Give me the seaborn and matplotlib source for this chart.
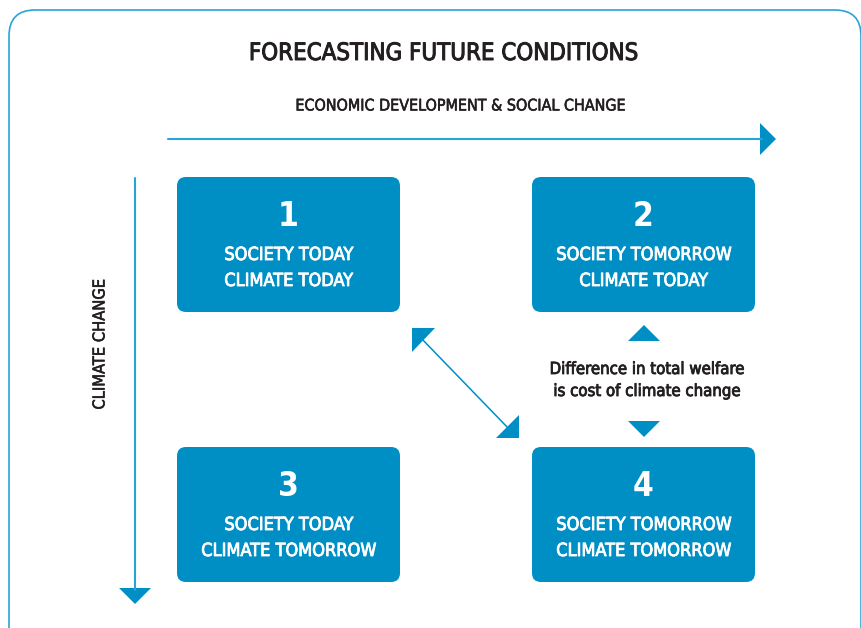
import matplotlib
matplotlib.use("Agg")
import matplotlib.pyplot as plt
import matplotlib.patheffects as pe
import seaborn as sns
from matplotlib.patches import FancyBboxPatch, Polygon

sns.set_theme(style="white")
plt.rcParams['font.family'] = ['DejaVu Sans']

# diagram content
title = "FORECASTING FUTURE CONDITIONS"
x_axis_label = "ECONOMIC DEVELOPMENT & SOCIAL CHANGE"
y_axis_label = "CLIMATE CHANGE"
box_numbers = ["1", "2", "3", "4"]
society_labels = ["SOCIETY TODAY", "SOCIETY TOMORROW", "SOCIETY TODAY", "SOCIETY TOMORROW"]
climate_labels = ["CLIMATE TODAY", "CLIMATE TODAY", "CLIMATE TOMORROW", "CLIMATE TOMORROW"]
note_lines = ["Difference in total welfare", "is cost of climate change"]

BLUE = "#008fc5"
LINE_BLUE = "#29a3d8"
DARK = "#231f20"


def heavy(color, w=0.6):
    # thicken the condensed glyphs a little, closer to the medium weight of the original
    return dict(fontstretch="condensed", color=color,
                path_effects=[pe.withStroke(linewidth=w, foreground=color)])


fig = plt.figure(figsize=(8.61, 6.28), dpi=100)
ax = fig.add_axes([0, 0, 1, 1])
ax.set_xlim(0, 861)
ax.set_ylim(628, 0)
ax.axis("off")

# outer rounded frame
ax.add_patch(FancyBboxPatch((9, 10), 852, 650, boxstyle="round,pad=0,rounding_size=26",
                            fc="none", ec=LINE_BLUE, lw=1.2))

ax.text(444, 53, title, ha="center", va="center", fontsize=17.2, **heavy(DARK, 0.7))
ax.text(460, 106, x_axis_label, ha="center", va="center", fontsize=11.5, **heavy(DARK, 0.4))
ax.text(100, 344, y_axis_label, ha="center", va="center", fontsize=11.8, rotation=90,
        **heavy(DARK, 0.4))

# horizontal arrow
ax.plot([168, 762], [139, 139], color=LINE_BLUE, lw=1.5)
ax.add_patch(Polygon([[760, 123], [776, 139], [760, 155]], closed=True, fc=BLUE, ec="none"))
# vertical arrow
ax.plot([135, 135], [178, 590], color=LINE_BLUE, lw=1.5)
ax.add_patch(Polygon([[119, 588], [151, 588], [135, 604]], closed=True, fc=BLUE, ec="none"))

# boxes
col_x = [177, 532]
row_y = [177, 447]
bw, bh = 223, 135
for i, (num, soc, cli) in enumerate(zip(box_numbers, society_labels, climate_labels)):
    x0 = col_x[i % 2]
    y0 = row_y[i // 2]
    ax.add_patch(FancyBboxPatch((x0, y0), bw, bh, boxstyle="round,pad=0,rounding_size=9",
                                fc=BLUE, ec="none"))
    cx = x0 + bw / 2
    ax.text(cx, y0 + 40, num, ha="center", va="center", fontsize=24, fontweight="bold",
            fontstretch="condensed", color="white")
    ax.text(cx, y0 + 78, soc, ha="center", va="center", fontsize=13, **heavy("white", 0.6))
    ax.text(cx, y0 + 104, cli, ha="center", va="center", fontsize=13, **heavy("white", 0.6))

# diagonal double arrow between box 1 and 4
ax.plot([420, 510], [337, 430], color=BLUE, lw=1.1)
ax.add_patch(Polygon([[412, 328], [435, 328], [412, 352]], closed=True, fc=BLUE, ec="none"))
ax.add_patch(Polygon([[519, 415], [519, 438], [496, 438]], closed=True, fc=BLUE, ec="none"))

# vertical double arrow heads between box 2 and 4
ax.add_patch(Polygon([[628, 341], [660, 341], [644, 325]], closed=True, fc=BLUE, ec="none"))
ax.add_patch(Polygon([[628, 421], [660, 421], [644, 437]], closed=True, fc=BLUE, ec="none"))
ax.text(647, 369, note_lines[0], ha="center", va="center", fontsize=12, **heavy(DARK, 0.6))
ax.text(647, 391, note_lines[1], ha="center", va="center", fontsize=12, **heavy(DARK, 0.6))

fig.savefig("out.png", dpi=100)
